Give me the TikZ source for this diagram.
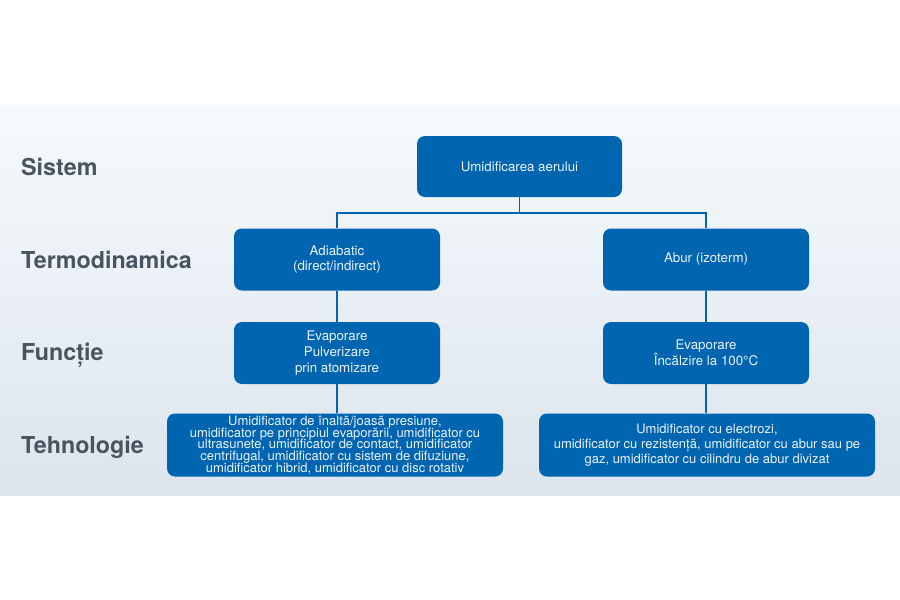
\documentclass[tikz,border=0pt]{standalone}
\usepackage{fontspec}
\setmainfont{TeX Gyre Heros}
\usepackage{tikz}
\definecolor{boxblue}{RGB}{0,101,177}
\definecolor{boxtext}{RGB}{236,243,250}
\definecolor{levelgray}{RGB}{72,84,96}
\definecolor{bandtop}{RGB}{246,250,253}
\definecolor{bandbot}{RGB}{220,229,236}
\newcommand{\tightlines}{\fontsize{13}{11.7}\selectfont\lineskiplimit=-20pt\lineskip=0pt\relax}
\tikzset{
  box/.style={draw=none, fill=boxblue, rounded corners=8pt, text=boxtext,
    align=center, font=\fontsize{13.3}{15.5}\selectfont, inner sep=0pt},
  widebox/.style={box, minimum width=336pt, minimum height=63pt,
    font=\tightlines},
  midbox/.style={box, minimum width=206pt, minimum height=62pt},
  level/.style={anchor=base west, text=levelgray, inner sep=0pt,
    font=\fontsize{23.3}{25}\selectfont\bfseries},
  link/.style={draw=boxblue, line width=1.6pt}
}
\begin{document}
\begin{tikzpicture}[x=1pt,y=-1pt]
	\useasboundingbox (0,0) rectangle (900,600);
	\shade[top color=bandtop, bottom color=bandbot] (0,105) rectangle (900,495);
	% level names
	\node[level] (lsys) at (21,175) {Sistem};
	\node[level] (lterm) at (21,268) {Termodinamica};
	\node[level] (lfunc) at (21,360) {Funcție};
	\node[level] (ltech) at (21,453) {Tehnologie};
	% boxes
	\node[box, minimum width=205pt, minimum height=61pt] (sys) at (519.5,166.5) {Umidificarea aerului};
	\node[midbox] (adi) at (337,259.5) {Adiabatic\\(direct/indirect)};
	\node[midbox] (abur) at (706,259.5) {Abur (izoterm)};
	\node[midbox, font=\fontsize{13.3}{16}\selectfont] (fadi) at (337,353) {Evaporare\\Pulverizare\\prin atomizare};
	\node[midbox, font=\fontsize{13.3}{16}\selectfont] (fabur) at (706,353) {Evaporare\\Încălzire la 100°C};
	\node[widebox] (tadi) at (335,445) {Umidificator de înaltă/joasă presiune,\\umidificator pe principiul evaporării, umidificator cu\\ultrasunete, umidificator de contact, umidificator\\centrifugal, umidificator cu sistem de difuziune,\\umidificator hibrid, umidificator cu disc rotativ};
	\node[widebox, font=\fontsize{13}{15}\selectfont] (tabur) at (707,445) {Umidificator cu electrozi,\\umidificator cu rezistență, umidificator cu abur sau pe\\gaz, umidificator cu cilindru de abur divizat};
	% connectors
	\draw[link] (sys.south) -- ++(0,16) -| (adi.north);
	\draw[link] (sys.south) -- ++(0,16) -| (abur.north);
	\draw[link] (adi) -- (fadi);
	\draw[link] (fadi) -- (tadi.north -| fadi);
	\draw[link] (abur) -- (fabur);
	\draw[link] (fabur) -- (tabur.north -| fabur);
\end{tikzpicture}
\end{document}
